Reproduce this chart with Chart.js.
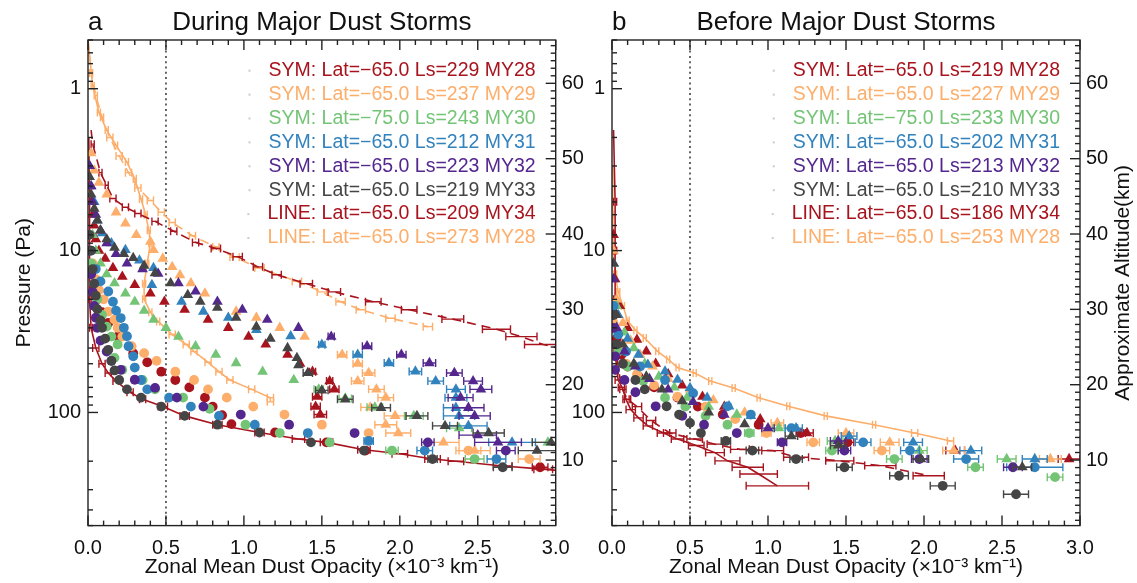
<!DOCTYPE html>
<html>
<head>
<meta charset="utf-8">
<script src="https://cdn.jsdelivr.net/npm/chart.js@4.4.1/dist/chart.umd.min.js"></script>
<style>
  html, body { margin: 0; padding: 0; background: #fff; width: 1137px; height: 583px; overflow: hidden; }
  #panelA { position: absolute; left: 0; top: 0; }
  #panelB { position: absolute; left: 560px; top: 0; }
</style>
</head>
<body>
<canvas id="panelA" width="600" height="583"></canvas>
<canvas id="panelB" width="577" height="583"></canvas>
<script>
// ---------- axes ----------
const X_RANGE = [0, 3];
const P_RANGE = [0.5, 500];          // Pa, log scale, reversed
const ALT_RANGE = [1.3, 65.75];      // km, approximate altitude
const X_TICKS = [0, 0.5, 1, 1.5, 2, 2.5, 3];
const P_TICKS = [1, 10, 100];
const ALT_TICKS = [10, 20, 30, 40, 50, 60];
const REF_OPACITY = 0.5;             // dotted reference line

// ---------- panel a: during major dust storms ----------
// rows: [opacity (1e-3 /km), pressure (Pa), half error bar]
const A_MY28_CIRC = [[0.02,14],[0.04,17],[0.06,20],[0.09,24],[0.13,28],[0.19,34],[0.29,43],[0.38,49],[0.47,56],[0.56,63],[0.65,70],[0.75,81],[0.80,92],[0.86,104],[0.92,118],[1.20,133],[1.53,153],[1.78,172],[2.90,218,0.05]];
const A_MY28_TRI  = [[0.01,4],[0.02,5],[0.03,6],[0.04,7],[0.05,8.5],[0.07,10],[0.11,11.2],[0.16,12.8],[0.22,14.5],[0.30,16.3],[0.40,18.4],[0.49,20.7],[0.62,23.2],[0.77,26.7],[0.90,30],[1.03,34],[1.14,38],[1.28,44],[1.36,50],[1.44,56,0.02],[1.55,64,0.02],[1.58,72,0.03],[1.47,80,0.03],[1.46,92,0.03],[1.49,103,0.04]];
const A_MY29_CIRC = [[0.03,12],[0.05,15],[0.07,17.5],[0.10,20],[0.13,23.8],[0.17,26.7],[0.19,30],[0.22,34],[0.28,39],[0.36,43],[0.44,48],[0.56,56],[0.68,63],[0.77,72],[0.89,81],[1.06,92],[1.26,103],[1.50,119],[1.80,134],[2.44,172,0.08],[2.83,194,0.07]];
const A_MY29_TRI  = [[0.02,2.5],[0.04,3.2],[0.07,3.8],[0.12,4.5],[0.18,5.8],[0.24,6.8],[0.31,8.0],[0.40,8.8],[0.42,9.9],[0.48,11.2],[0.54,12.6],[0.59,14.2],[0.66,15.9],[0.75,18.4],[0.95,23.8],[1.08,26],[1.23,30],[1.39,34],[1.63,44,0.03],[1.73,50,0.03],[1.80,57,0.04],[1.73,64,0.04],[1.85,72,0.05],[1.91,81,0.05],[1.81,93,0.06],[1.97,105,0.07],[1.91,119,0.07],[1.99,134,0.08],[2.28,153,0.1],[2.48,172,0.1]];
const A_MY30_CIRC = [[0.02,12],[0.04,16],[0.06,20],[0.09,25],[0.12,29.5],[0.15,34],[0.19,38],[0.17,46],[0.22,54.5],[0.35,63],[0.43,72],[0.61,81],[0.78,95],[1.01,119],[1.23,134],[1.55,153],[1.95,172,0.04],[2.48,194,0.06]];
const A_MY30_TRI  = [[0.03,8],[0.05,10],[0.08,12],[0.12,14],[0.17,15.9],[0.24,18.4],[0.30,20.7],[0.36,23.5],[0.42,26.7],[0.50,30],[0.58,34],[0.69,39],[0.82,44],[0.95,49.5],[1.12,56],[1.32,63],[1.48,72,0.03],[1.65,82,0.04],[1.84,93,0.05],[2.09,105,0.06],[2.38,125,0.08],[2.95,153,0.1]];
const A_MY31_CIRC = [[0.02,10],[0.05,13],[0.08,15.5],[0.13,17.9],[0.16,20.7],[0.18,23.5],[0.21,26.1],[0.23,30],[0.25,33.8],[0.26,39],[0.29,45],[0.30,52.8],[0.34,63],[0.38,72],[0.52,81],[0.66,92],[0.84,105],[1.07,119],[1.41,134],[1.80,150,0.03],[2.16,172,0.05],[2.62,194,0.06]];
const A_MY31_TRI  = [[0.01,3],[0.02,4],[0.04,5],[0.06,6.5],[0.09,7.8],[0.15,9],[0.24,9.9],[0.33,11.5],[0.42,12.8],[0.41,16.3],[0.60,20.7],[0.74,23.8],[0.90,26],[1.08,30.9],[1.30,33.8],[1.50,38.1,0.02],[1.73,43.9,0.03],[1.93,49.5,0.03],[2.10,55.8,0.04],[2.23,64,0.05],[2.36,72,0.06],[2.36,81,0.07],[2.36,93.6,0.08],[2.38,105,0.1],[2.44,121,0.12],[2.72,153,0.15]];
const A_MY32_CIRC = [[0.01,10],[0.02,14],[0.03,18],[0.04,22],[0.05,26],[0.06,30],[0.08,36],[0.12,42],[0.15,48],[0.21,54.5],[0.30,62.8],[0.43,70.5],[0.57,81],[0.74,92],[0.98,103],[1.29,119],[1.71,134],[2.18,153,0.04],[2.68,172,0.06]];
const A_MY32_TRI  = [[0.01,3],[0.02,4],[0.03,5],[0.05,6],[0.08,7.5],[0.12,9],[0.18,10.5],[0.25,12],[0.35,13],[0.45,13.9],[0.58,15.9],[0.69,17.9],[0.83,20.7],[0.99,23.2],[1.15,26.7],[1.35,30],[1.56,34,0.02],[1.79,39,0.03],[2.01,44,0.03],[2.19,49.5,0.04],[2.35,57,0.05],[2.47,64,0.06],[2.52,72,0.07],[2.39,81,0.08],[2.44,93.6,0.1],[2.48,105,0.1],[2.50,138,0.12],[2.63,153,0.15]];
const A_MY33_CIRC = [[0.01,8],[0.02,10],[0.03,13],[0.04,16],[0.05,19],[0.06,23],[0.08,27],[0.09,30],[0.11,35],[0.13,41],[0.15,48],[0.17,55],[0.20,63],[0.25,72],[0.34,81],[0.47,92],[0.62,105],[0.83,119],[1.10,133],[1.43,153],[1.77,172],[2.21,194,0.03],[2.66,218,0.06]];
const A_MY33_TRI  = [[0.01,3.5],[0.02,4.5],[0.04,5.5],[0.06,6.5],[0.08,7.5],[0.12,8.5],[0.17,9.6],[0.23,10.5],[0.29,11.1],[0.36,12.4],[0.43,13.8],[0.53,15.9],[0.64,18.8],[0.72,20.7],[0.83,22.5],[0.95,26],[1.08,29.5],[1.17,35],[1.28,40],[1.34,46],[1.35,51],[1.41,57,0.03],[1.50,73,0.04],[1.65,83,0.05],[1.88,93.6,0.06],[2.11,105,0.07],[2.29,121,0.08],[2.57,134,0.1],[2.97,153,0.12],[2.88,172,0.12]];
const A_MY34_SOLID = [[0.005,2,0],[0.01,5,0],[0.01,10,0.01],[0.01,20,0.01],[0.02,30,0.01],[0.05,40,0.02],[0.09,50,0.02],[0.13,57,0.02],[0.18,64,0.02],[0.27,75,0.02],[0.35,83,0.02],[0.48,92,0.03],[0.62,105,0.03],[0.83,119,0.03],[1.10,133,0.03],[1.35,146,0.04],[1.53,153,0.04],[1.77,170,0.04],[2.00,180,0.05],[2.21,194,0.05],[2.36,200,0.05],[2.66,214,0.06],[2.92,224,0.06],[3.05,230,0]];
const A_MY34_DASH  = [[0.02,1.8,0],[0.03,2.2,0.01],[0.08,3.3,0.01],[0.12,3.95,0.01],[0.16,4.77,0.02],[0.24,5.4,0.02],[0.32,5.9,0.02],[0.43,6.6,0.02],[0.55,7.6,0.02],[0.69,8.9,0.02],[0.82,9.7,0.03],[0.96,10.9,0.03],[1.09,12.6,0.03],[1.21,14.1,0.03],[1.40,16,0.04],[1.58,18,0.04],[1.83,20.7,0.05],[2.06,23.2,0.05],[2.34,26.5,0.07],[2.62,30.6,0.09],[2.78,34,0.1],[2.92,38,0.12],[3.1,42,0]];
const A_MY28L_SOLID = [[0.0,0.5,0],[0.03,0.96,0.01],[0.07,1.4,0.01],[0.12,1.8,0.01],[0.18,2.24,0.01],[0.25,2.84,0.01],[0.30,3.6,0.01],[0.34,4.8,0.01],[0.37,6.0,0.01],[0.39,7.5,0.01],[0.40,9,0.01],[0.38,12,0.01],[0.36,16,0.01],[0.36,20,0.01],[0.40,24,0.01],[0.45,27.4,0.01],[0.54,33,0.02],[0.63,38,0.02],[0.68,42,0.02],[0.77,49,0.02],[0.84,56,0.02],[0.91,63,0.02],[1.05,72,0.02],[1.17,81,0.02],[1.17,86,0.02]];
const A_MY28L_DASH  = [[0.0,0.5,0],[0.02,0.8,0.01],[0.05,1.1,0.01],[0.09,1.5,0.01],[0.14,2.0,0.02],[0.20,2.6,0.02],[0.26,3.3,0.02],[0.32,4.1,0.02],[0.40,4.9,0.02],[0.47,5.8,0.02],[0.54,6.7,0.02],[0.67,8.1,0.02],[0.82,9.5,0.02],[0.94,11,0.03],[1.10,12.8,0.03],[1.34,15.5,0.03],[1.50,18,0.03],[1.62,20.7,0.03],[1.75,23.2,0.03],[1.94,26.2,0.03],[2.18,29.5,0.03]];

// ---------- panel b: before major dust storms ----------
const B_MY28_CIRC = [[0.01,25],[0.03,35],[0.06,44],[0.10,52],[0.17,60],[0.27,70],[0.42,81],[0.55,92],[0.71,103],[0.94,119],[1.21,134,0.03],[1.51,153,0.04]];
const B_MY28_TRI  = [[0.01,8],[0.02,15],[0.05,22],[0.10,30],[0.16,35.5],[0.22,42],[0.28,50],[0.36,58],[0.45,68],[0.58,80],[0.72,92],[0.95,110],[1.25,134,0.04],[2.20,172,0.06],[2.93,194,0.07]];
const B_MY29_CIRC = [[0.01,28],[0.04,40],[0.09,50],[0.16,58],[0.27,68],[0.42,80],[0.60,92],[0.79,110],[0.99,134,0.03],[1.29,153,0.04],[1.73,172,0.05]];
const B_MY29_TRI  = [[0.01,10],[0.03,20],[0.07,28],[0.12,36],[0.18,44],[0.26,52],[0.36,62],[0.50,72],[0.65,84],[0.85,100],[1.06,116,0.04],[1.50,134,0.05],[1.78,153,0.06],[2.19,172,0.07],[2.81,194,0.07]];
const B_MY30_CIRC = [[0.01,30],[0.04,42],[0.10,52],[0.20,64],[0.34,81],[0.47,92],[0.60,105],[0.74,119],[0.88,134,0.03],[1.41,172,0.04],[1.81,194,0.05],[2.33,218,0.05],[2.84,251,0.05]];
const B_MY30_TRI  = [[0.01,12],[0.03,22],[0.08,32],[0.14,40],[0.21,50],[0.30,60],[0.40,70],[0.48,81],[0.62,92],[0.80,103],[1.07,125,0.04],[1.43,150,0.05],[1.97,172,0.05],[2.53,194,0.06]];
const B_MY31_CIRC = [[0.01,22],[0.04,33],[0.09,42],[0.18,52],[0.34,63],[0.52,76],[0.74,91.6],[0.89,103],[1.15,125,0.04],[1.61,153,0.05],[1.91,172,0.06],[2.27,194,0.08],[2.71,218,0.18]];
const B_MY31_TRI  = [[0.01,12],[0.04,25],[0.10,35],[0.17,44],[0.23,50.7],[0.34,55.8],[0.42,62.8],[0.50,70.5],[0.61,81],[0.75,91.6],[0.89,105],[1.18,125,0.04],[1.52,140,0.05],[1.93,153,0.06],[2.30,172,0.07],[2.71,194,0.08]];
const B_MY32_CIRC = [[0.01,30],[0.02,45],[0.02,54.5],[0.08,63],[0.15,75],[0.28,91.6],[0.45,105],[0.59,119],[0.80,134],[1.09,153,0.03],[1.49,172,0.04],[1.97,194,0.05],[2.57,218,0.06]];
const B_MY32_TRI  = [[0.01,15],[0.03,30],[0.08,42],[0.15,52],[0.24,62],[0.36,72],[0.52,86],[0.72,103],[1.00,125,0.04],[1.45,150,0.05]];
const B_MY33_CIRC = [[0.01,25],[0.03,38],[0.07,50],[0.15,63],[0.21,72],[0.35,91.6],[0.43,103],[0.50,116],[0.57,134],[0.73,150,0.03],[0.90,172,0.04],[1.18,194,0.04],[1.49,218,0.05],[1.84,246,0.06],[2.12,284,0.08],[2.59,320,0.08]];
const B_MY33_TRI  = [[0.01,12],[0.03,25],[0.07,38],[0.14,50],[0.22,60],[0.32,72],[0.45,85],[0.62,100],[0.85,118],[1.15,140,0.04],[1.45,160,0.05],[1.98,194,0.05],[2.63,218,0.06]];
const B_MY34_SOLID = [[0.01,1.8,0],[0.015,3,0],[0.02,5,0.01],[0.02,10,0.01],[0.02,20,0.01],[0.02,40,0.01],[0.03,55,0.01],[0.04,63,0.02],[0.07,72,0.02],[0.09,83,0.02],[0.12,96,0.03],[0.17,108,0.03],[0.23,121,0.03],[0.33,134,0.04],[0.42,146,0.04],[0.54,160,0.05],[0.66,177,0.06],[0.74,199,0.08],[0.87,218,0.1],[0.94,240,0.12],[1.06,284,0.2]];
const B_MY34_DASH  = [[0.02,20,0],[0.03,45,0.01],[0.06,70,0.02],[0.10,83,0.02],[0.16,92,0.03],[0.25,112,0.03],[0.37,134,0.04],[0.53,146,0.05],[0.66,157,0.05],[0.82,169,0.06],[1.03,172,0.07],[1.18,189,0.08],[1.46,199,0.09],[1.72,213,0.1],[2.03,246,0.1]];
const B_MY28L_SOLID = [[0.0,3,0],[0.005,6,0.005],[0.01,10,0.005],[0.02,14,0.01],[0.04,18,0.01],[0.07,22,0.01],[0.10,27,0.01],[0.15,31,0.01],[0.21,34.7,0.01],[0.29,41.8,0.01],[0.36,47,0.01],[0.42,52.8,0.01],[0.53,57,0.01],[0.63,64,0.01],[0.78,70.5,0.01],[0.94,81,0.01],[1.13,91.6,0.01],[1.37,105,0.01],[1.68,119,0.01],[1.94,134,0.02],[2.17,150,0.02]];

// ---------- legend text ----------
const A_LABELS = ['SYM: Lat=\u221265.0 Ls=229 MY28','SYM: Lat=\u221265.0 Ls=237 MY29','SYM: Lat=\u221275.0 Ls=243 MY30','SYM: Lat=\u221265.0 Ls=212 MY31','SYM: Lat=\u221265.0 Ls=223 MY32','SYM: Lat=\u221265.0 Ls=219 MY33','LINE: Lat=\u221265.0 Ls=209 MY34','LINE: Lat=\u221265.0 Ls=273 MY28'];
const B_LABELS = ['SYM: Lat=\u221265.0 Ls=219 MY28','SYM: Lat=\u221265.0 Ls=227 MY29','SYM: Lat=\u221275.0 Ls=233 MY30','SYM: Lat=\u221265.0 Ls=202 MY31','SYM: Lat=\u221265.0 Ls=213 MY32','SYM: Lat=\u221265.0 Ls=210 MY33','LINE: Lat=\u221265.0 Ls=186 MY34','LINE: Lat=\u221265.0 Ls=253 MY28'];

const FONT = '"Liberation Sans", Arial, Helvetica, sans-serif';
const INK = '#111';
const COL = { red: '#a8141e', orange: '#fdae6b', green: '#74c476', blue: '#3182bd', purple: '#54278f', gray: '#454545' };
const LEGEND_COLORS = [COL.red, COL.orange, COL.green, COL.blue, COL.purple, COL.gray, COL.red, COL.orange];

// ---------- dataset builders ----------
const toPts = rows => rows.map(r => ({ x: r[0], y: r[1] }));
const toErr = rows => rows.map(r => r[2] || 0);

function markers(rows, color, style, order) {
  return {
    data: toPts(rows), errs: toErr(rows), showLine: false,
    pointStyle: style, pointRadius: style === 'triangle' ? 6.2 : 4.9,
    pointHoverRadius: style === 'triangle' ? 6.2 : 4.9,
    backgroundColor: color, borderColor: color, pointBorderWidth: 0, order
  };
}
function profile(rows, color, dash) {
  return {
    data: toPts(rows), errs: toErr(rows), showLine: true, borderColor: color,
    backgroundColor: color, borderWidth: 1.6, borderDash: dash, pointRadius: 0,
    pointHoverRadius: 0, tension: 0, fill: false, order: 20
  };
}
function refLine() {
  return {
    data: [{ x: REF_OPACITY, y: P_RANGE[0] }, { x: REF_OPACITY, y: P_RANGE[1] }],
    showLine: true, borderColor: '#555', borderWidth: 1.8, borderDash: [2, 3.3],
    pointRadius: 0, pointHoverRadius: 0, order: 30
  };
}

// ---------- plugins ----------
// horizontal error bars with end caps, drawn right after each dataset
const errorBars = {
  id: 'errorBars',
  afterDatasetDraw(chart, args) {
    const ds = chart.data.datasets[args.index];
    if (!ds.errs) return;
    const { ctx, chartArea: a } = chart;
    const xs = chart.scales.x;
    ctx.save();
    ctx.beginPath(); ctx.rect(a.left, a.top, a.right - a.left, a.bottom - a.top); ctx.clip();
    ctx.strokeStyle = ds.borderColor; ctx.lineWidth = 1.4; ctx.setLineDash([]);
    ds.data.forEach((d, i) => {
      const e = ds.errs[i];
      if (!e) return;
      const y = args.meta.data[i].y;
      const x0 = xs.getPixelForValue(d.x - e), x1 = xs.getPixelForValue(d.x + e);
      ctx.beginPath();
      ctx.moveTo(x0, y); ctx.lineTo(x1, y);
      ctx.moveTo(x0, y - 4); ctx.lineTo(x0, y + 4);
      ctx.moveTo(x1, y - 4); ctx.lineTo(x1, y + 4);
      ctx.stroke();
    });
    ctx.restore();
  }
};

// box frame with inward ticks on all four sides
const frame = {
  id: 'frame',
  afterDraw(chart) {
    const { ctx, chartArea: a, scales } = chart;
    ctx.save();
    ctx.strokeStyle = '#222'; ctx.lineWidth = 1.4; ctx.setLineDash([]);
    const seg = (x0, y0, x1, y1) => { ctx.beginPath(); ctx.moveTo(x0, y0); ctx.lineTo(x1, y1); ctx.stroke(); };
    ctx.strokeRect(a.left, a.top, a.right - a.left, a.bottom - a.top);
    for (let k = 0; k <= 30; k++) {
      const px = scales.x.getPixelForValue(k / 10);
      const len = k % 5 === 0 ? 10 : 5;
      seg(px, a.bottom, px, a.bottom - len);
      seg(px, a.top, px, a.top + len);
    }
    [0.1, 1, 10, 100].forEach(dec => {
      for (let m = 1; m <= 9; m++) {
        const v = m * dec;
        if (v < P_RANGE[0] - 1e-9 || v > P_RANGE[1] + 1e-9) continue;
        const py = scales.y.getPixelForValue(v);
        seg(a.left, py, a.left + (m === 1 ? 10 : 5), py);
      }
    });
    for (let z = Math.ceil(ALT_RANGE[0]); z <= ALT_RANGE[1]; z++) {
      const py = scales.alt.getPixelForValue(z);
      seg(a.right, py, a.right - (z % 10 === 0 ? 10 : 5), py);
    }
    ctx.restore();
  }
};

// coloured text legend in the upper right of the plot
const legendText = {
  id: 'legendText',
  afterDraw(chart, args, opts) {
    const { ctx, chartArea: a } = chart;
    ctx.save();
    ctx.font = '19.5px ' + FONT; ctx.textAlign = 'right'; ctx.textBaseline = 'middle';
    opts.labels.forEach((t, i) => {
      const y = a.top + 30.7 + i * 23.9;
      const xr = a.right - 20;
      ctx.fillStyle = opts.colors[i];
      ctx.fillText(t, xr, y);
      const w = ctx.measureText(t).width;
      ctx.fillStyle = 'rgba(160,160,160,0.55)';
      ctx.fillRect(xr - w - 20, y - 1, 2, 2);
    });
    ctx.restore();
  }
};

// panel letter, panel title and the optional altitude axis title
const headings = {
  id: 'headings',
  afterDraw(chart, args, opts) {
    const { ctx, chartArea: a } = chart;
    ctx.save();
    ctx.fillStyle = INK; ctx.font = '26px ' + FONT; ctx.textBaseline = 'alphabetic';
    ctx.textAlign = 'left'; ctx.fillText(opts.letter, a.left, 30);
    ctx.textAlign = 'center'; ctx.fillText(opts.title, (a.left + a.right) / 2, 30);
    if (opts.altTitle) {
      ctx.font = '21px ' + FONT; ctx.textBaseline = 'middle';
      ctx.translate(chart.width - 14, (a.top + a.bottom) / 2);
      ctx.rotate(-Math.PI / 2);
      ctx.fillText(opts.altTitle, 0, 0);
    }
    ctx.restore();
  }
};

function scalesFor(leftW, rightW, pressureTitle) {
  const tickFont = { size: 20, family: FONT };
  return {
    x: {
      type: 'linear', position: 'bottom', min: X_RANGE[0], max: X_RANGE[1],
      afterBuildTicks: s => { s.ticks = X_TICKS.map(v => ({ value: v })); },
      afterFit: s => { s.height = 57.4; },
      grid: { display: false, drawTicks: false }, border: { display: false },
      ticks: { font: tickFont, color: INK, padding: 11, maxRotation: 0, autoSkip: false, callback: v => Number(v).toFixed(1) },
      title: { display: true, text: 'Zonal Mean Dust Opacity (\u00d710\u207b\u00b3 km\u207b\u00b9)', font: { size: 21, family: FONT }, color: INK, padding: { top: 0, bottom: 3.4 } }
    },
    y: {
      type: 'logarithmic', position: 'left', min: P_RANGE[0], max: P_RANGE[1], reverse: true,
      afterBuildTicks: s => { s.ticks = P_TICKS.map(v => ({ value: v })); },
      afterFit: s => { s.width = leftW; },
      grid: { display: false, drawTicks: false }, border: { display: false },
      ticks: { font: tickFont, color: INK, padding: 7, autoSkip: false, callback: v => String(v) },
      title: { display: pressureTitle, text: 'Pressure (Pa)', font: { size: 21, family: FONT }, color: INK, padding: { top: 11.4, bottom: 0 } }
    },
    alt: {
      type: 'linear', position: 'right', display: true, min: ALT_RANGE[0], max: ALT_RANGE[1],
      afterBuildTicks: s => { s.ticks = ALT_TICKS.map(v => ({ value: v })); },
      afterFit: s => { s.width = rightW; },
      grid: { display: false, drawTicks: false }, border: { display: false },
      ticks: { font: tickFont, color: INK, padding: 6, autoSkip: false, callback: v => String(v) }
    }
  };
}

function makePanel(id, datasets, opts) {
  return new Chart(document.getElementById(id), {
    type: 'scatter',
    data: { datasets },
    options: {
      responsive: false, animation: false, devicePixelRatio: 1,
      layout: { padding: { top: 40, left: 0, right: 0, bottom: 0 } },
      scales: scalesFor(opts.leftW, opts.rightW, opts.pressureTitle),
      plugins: {
        legend: { display: false }, tooltip: { enabled: false },
        legendText: { labels: opts.labels, colors: LEGEND_COLORS },
        headings: { letter: opts.letter, title: opts.title, altTitle: opts.altTitle }
      }
    },
    plugins: [errorBars, frame, legendText, headings]
  });
}

makePanel('panelA', [
  refLine(),
  profile(A_MY34_SOLID, COL.red, []),
  profile(A_MY34_DASH, COL.red, [9, 6]),
  profile(A_MY28L_SOLID, COL.orange, []),
  profile(A_MY28L_DASH, COL.orange, [9, 6]),
  markers(A_MY28_CIRC, COL.red, 'circle', 6),
  markers(A_MY28_TRI, COL.red, 'triangle', 6),
  markers(A_MY29_CIRC, COL.orange, 'circle', 5),
  markers(A_MY29_TRI, COL.orange, 'triangle', 5),
  markers(A_MY30_CIRC, COL.green, 'circle', 4),
  markers(A_MY30_TRI, COL.green, 'triangle', 4),
  markers(A_MY31_CIRC, COL.blue, 'circle', 3),
  markers(A_MY31_TRI, COL.blue, 'triangle', 3),
  markers(A_MY32_CIRC, COL.purple, 'circle', 2),
  markers(A_MY32_TRI, COL.purple, 'triangle', 2),
  markers(A_MY33_CIRC, COL.gray, 'circle', 1),
  markers(A_MY33_TRI, COL.gray, 'triangle', 1)
], { leftW: 88, rightW: 44.3, pressureTitle: true, labels: A_LABELS, letter: 'a', title: 'During Major Dust Storms', altTitle: null });

makePanel('panelB', [
  refLine(),
  profile(B_MY34_SOLID, COL.red, []),
  profile(B_MY34_DASH, COL.red, [9, 6]),
  profile(B_MY28L_SOLID, COL.orange, []),
  markers(B_MY28_CIRC, COL.red, 'circle', 6),
  markers(B_MY28_TRI, COL.red, 'triangle', 6),
  markers(B_MY29_CIRC, COL.orange, 'circle', 5),
  markers(B_MY29_TRI, COL.orange, 'triangle', 5),
  markers(B_MY30_CIRC, COL.green, 'circle', 4),
  markers(B_MY30_TRI, COL.green, 'triangle', 4),
  markers(B_MY31_CIRC, COL.blue, 'circle', 3),
  markers(B_MY31_TRI, COL.blue, 'triangle', 3),
  markers(B_MY32_CIRC, COL.purple, 'circle', 2),
  markers(B_MY32_TRI, COL.purple, 'triangle', 2),
  markers(B_MY33_CIRC, COL.gray, 'circle', 1),
  markers(B_MY33_TRI, COL.gray, 'triangle', 1)
], { leftW: 52, rightW: 57, pressureTitle: false, labels: B_LABELS, letter: 'b', title: 'Before Major Dust Storms', altTitle: 'Approximate Altitude(km)' });
</script>
</body>
</html>
